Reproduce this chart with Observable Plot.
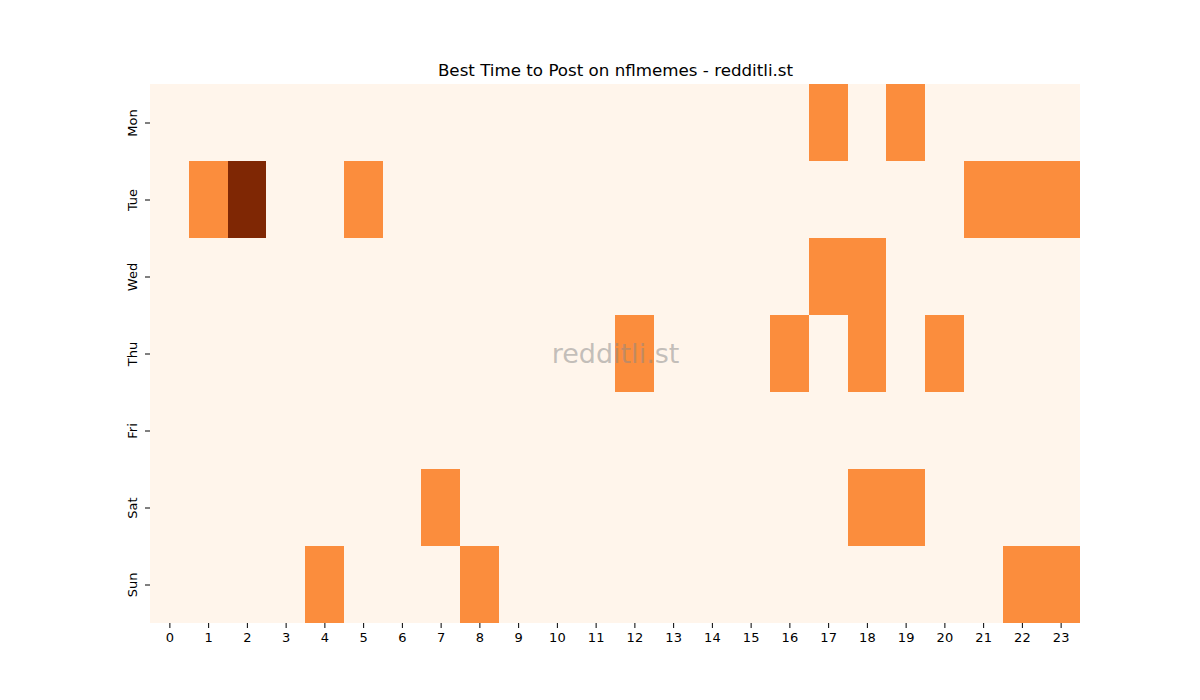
<!DOCTYPE html>
<html>
<head>
<meta charset="utf-8">
<script src="https://cdn.jsdelivr.net/npm/d3@7"></script>
<script src="https://cdn.jsdelivr.net/npm/@observablehq/plot@0.6"></script>
<style>
  html, body { margin: 0; padding: 0; background: #fff; }
  #chart svg { display: block; }
</style>
</head>
<body>
<div id="chart"></div>
<script>
const days = ["Mon", "Tue", "Wed", "Thu", "Fri", "Sat", "Sun"];
const hours = d3.range(24);
const titleText = "Best Time to Post on nflmemes - redditli.st";
const watermark = "redditli.st";
// non-zero cells: [day, hour, value]
const activeCells = [
  ["Mon", 17, 1], ["Mon", 19, 1],
  ["Tue", 1, 1], ["Tue", 2, 2], ["Tue", 5, 1], ["Tue", 21, 1], ["Tue", 22, 1], ["Tue", 23, 1],
  ["Wed", 17, 1], ["Wed", 18, 1],
  ["Thu", 12, 1], ["Thu", 16, 1], ["Thu", 18, 1], ["Thu", 20, 1],
  ["Sat", 7, 1], ["Sat", 18, 1], ["Sat", 19, 1],
  ["Sun", 4, 1], ["Sun", 8, 1], ["Sun", 22, 1], ["Sun", 23, 1]
];

const lookup = new Map(activeCells.map(([d, h, v]) => [d + "|" + h, v]));
const grid = [];
for (const d of days) for (const h of hours) grid.push({day: d, hour: h, value: lookup.get(d + "|" + h) ?? 0});

const chart = Plot.plot({
  width: 1200,
  height: 700,
  marginLeft: 150,
  marginRight: 120,
  marginTop: 84,
  marginBottom: 77,
  style: {fontFamily: "DejaVu Sans", fontSize: "13px", color: "#000", background: "#fff"},
  x: {type: "band", domain: hours, padding: 0, round: false, label: null},
  y: {type: "band", domain: days, padding: 0, round: false, label: null},
  color: {type: "linear", domain: [0, 2], scheme: "Oranges"},
  marks: [
    Plot.cell(grid, {x: "hour", y: "day", fill: "value", inset: 0, shapeRendering: "crispEdges"}),
    Plot.axisX({anchor: "bottom", tickSize: 5, tickPadding: 4, fontSize: 13, stroke: "#000", strokeWidth: 1, strokeOpacity: 1}),
    Plot.axisY({anchor: "left", tickSize: 5, tickPadding: 9, fontSize: 13, tickRotate: -90, textAnchor: "middle", stroke: "#000", strokeWidth: 1, strokeOpacity: 1}),
    Plot.text([titleText], {frameAnchor: "top", dy: -14, fontSize: 16.7, fill: "#000", lineAnchor: "middle"}),
    Plot.text([watermark], {frameAnchor: "middle", fontSize: 27, fill: "#888", fillOpacity: 0.5, lineAnchor: "middle"})
  ]
});
document.getElementById("chart").appendChild(chart);
</script>
</body>
</html>
